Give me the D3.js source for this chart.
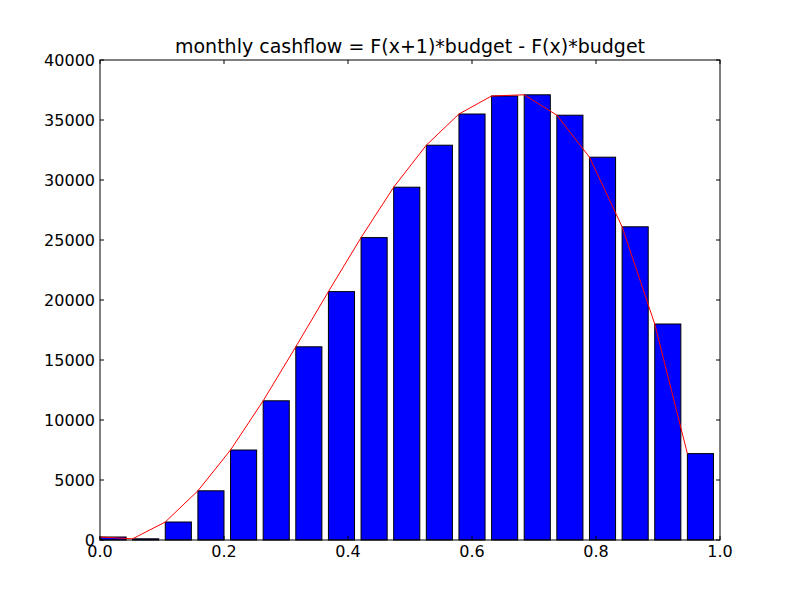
<!DOCTYPE html>
<html>
<head>
<meta charset="utf-8">
<script src="https://d3js.org/d3.v7.min.js"></script>
<style>
body { margin: 0; background: #fff; }
text { font-family: "DejaVu Sans", sans-serif; }
</style>
</head>
<body>
<svg id="chart" width="800" height="600"></svg>
<script>
var titleText = "monthly cashflow = F(x+1)*budget - F(x)*budget";
// bar left edges are i/19
var cashflow = [250, 100, 1500, 4100, 7500, 11600, 16100, 20700, 25200, 29400,
                32900, 35500, 37000, 37100, 35400, 31900, 26100, 18000, 7200];
var xTicks = [0, 0.2, 0.4, 0.6, 0.8, 1.0];
var yTicks = [0, 5000, 10000, 15000, 20000, 25000, 30000, 35000, 40000];

var svg = d3.select("#chart");
var mLeft = 100, mRight = 720, mTop = 60, mBottom = 540;
var x = d3.scaleLinear().domain([0, 1]).range([mLeft, mRight]);
var y = d3.scaleLinear().domain([0, 40000]).range([mBottom, mTop]);
var step = 1 / cashflow.length;

svg.selectAll("rect.bar").data(cashflow).enter().append("rect")
  .attr("class", "bar")
  .attr("x", (d, i) => x(i * step))
  .attr("y", d => y(d))
  .attr("width", x(step * 0.8) - x(0))
  .attr("height", d => y(0) - y(d))
  .attr("fill", "#0000ff")
  .attr("stroke", "#000")
  .attr("stroke-width", 1);

var line = d3.line().x((d, i) => x(i * step)).y(d => y(d));
svg.append("path").datum(cashflow)
  .attr("d", line).attr("fill", "none").attr("stroke", "#ff0000").attr("stroke-width", 1);

// frame
svg.append("rect").attr("x", mLeft).attr("y", mTop)
  .attr("width", mRight - mLeft).attr("height", mBottom - mTop)
  .attr("fill", "none").attr("stroke", "#000");

// ticks, inward on all four sides like matplotlib classic
var gx = svg.append("g");
xTicks.forEach(t => {
  gx.append("line").attr("x1", x(t)).attr("x2", x(t)).attr("y1", mBottom).attr("y2", mBottom - 4).attr("stroke", "#000");
  gx.append("line").attr("x1", x(t)).attr("x2", x(t)).attr("y1", mTop).attr("y2", mTop + 4).attr("stroke", "#000");
  gx.append("text").attr("x", x(t)).attr("y", mBottom + 17).attr("text-anchor", "middle")
    .attr("font-size", 16).text(d3.format(".1f")(t));
});
var gy = svg.append("g");
yTicks.forEach(t => {
  gy.append("line").attr("x1", mLeft).attr("x2", mLeft + 4).attr("y1", y(t)).attr("y2", y(t)).attr("stroke", "#000");
  gy.append("line").attr("x1", mRight).attr("x2", mRight - 4).attr("y1", y(t)).attr("y2", y(t)).attr("stroke", "#000");
  gy.append("text").attr("x", mLeft - 5).attr("y", y(t)).attr("dy", "0.35em").attr("text-anchor", "end")
    .attr("font-size", 16).text(t);
});

svg.append("text").attr("x", (mLeft + mRight) / 2).attr("y", mTop - 7)
  .attr("text-anchor", "middle").attr("font-size", 19).text(titleText);
</script>
</body>
</html>
